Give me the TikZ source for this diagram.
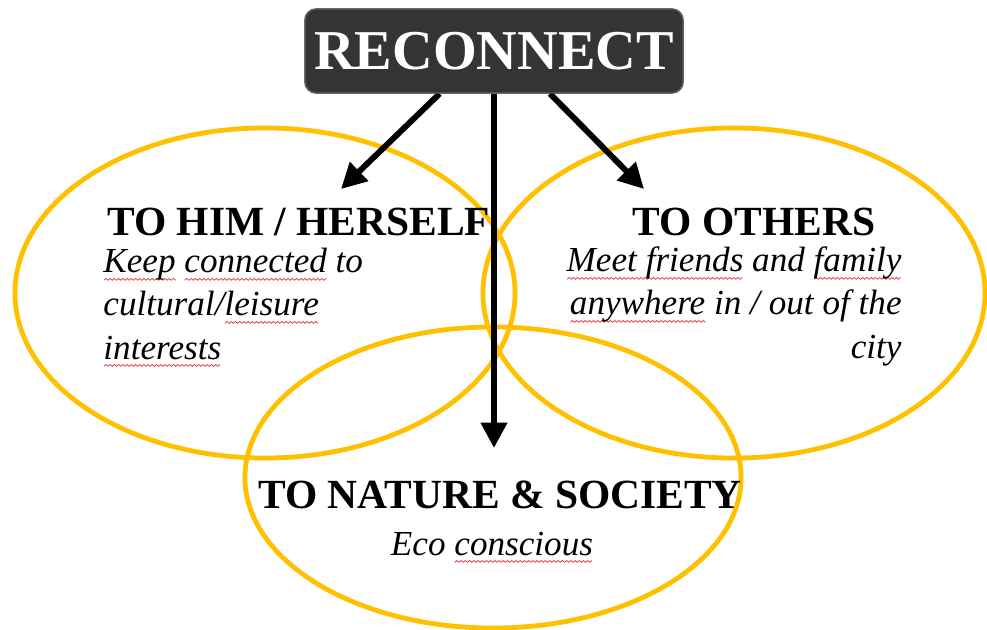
\documentclass[tikz,border=0pt]{standalone}
\usepackage{fontspec}
\setmainfont{Liberation Serif}
\usetikzlibrary{arrows.meta,shapes.geometric}
\definecolor{ringgold}{RGB}{255,192,0}
\definecolor{boxgray}{RGB}{52,52,52}
\definecolor{boxedge}{RGB}{95,95,95}
\definecolor{spellred}{RGB}{235,70,85}

% red zigzag underline for flagged words
\newsavebox\sqbox
\newlength\sqw
\newlength\sqx
\newcount\sqi
\newcount\sqn
\newcommand\squig{%
  \begin{pgfpicture}%
    \pgfsetlinewidth{0.6pt}%
    \sqn=\sqw \divide\sqn by 98304 % half periods of 1.5pt
    \sqi=0 \sqx=0pt
    \pgfpathmoveto{\pgfpoint{0pt}{0pt}}%
    \loop\ifnum\sqi<\sqn
      \advance\sqi by 1
      \advance\sqx by 1.5pt
      \ifodd\sqi \pgfpathlineto{\pgfpoint{\sqx}{1.3pt}}%
      \else \pgfpathlineto{\pgfpoint{\sqx}{0pt}}\fi
    \repeat
    \pgfusepath{stroke}%
  \end{pgfpicture}}
\newcommand\sq[1]{%
  \sbox\sqbox{#1}\setlength\sqw{\wd\sqbox}%
  \leavevmode\rlap{\smash{\raisebox{-5.5pt}{\textcolor{spellred}{\squig}}}}\usebox\sqbox}

\begin{document}
\begin{tikzpicture}[x=0.025cm,y=-0.025cm,
  ring/.style={draw=ringgold, line width=3.4pt, ellipse, inner sep=0pt},
  recbox/.style={fill=boxgray, draw=boxedge, line width=1pt, rounded corners=8pt,
    minimum width=9.45cm, minimum height=2.1cm, inner sep=0pt,
    text=white, font=\fontsize{40}{40}\selectfont\bfseries},
  head/.style={inner sep=0pt, font=\fontsize{29.5}{30}\selectfont\bfseries},
  note/.style={inner sep=0pt, font=\fontsize{25}{30.6}\selectfont\itshape},
  arr/.style={line width=4.2pt, -{Triangle[length=18pt,width=18pt]}}]
\fill[white] (0,0) rectangle (987,630);
\useasboundingbox (0,0) rectangle (987,630);

% the three circles of connection
\node[ring, minimum width=12.5cm, minimum height=8.25cm] (self) at (265,293) {};
\node[ring, minimum width=12.55cm, minimum height=8.25cm] (others) at (734,293) {};
\node[ring, minimum width=12.4cm, minimum height=7.525cm] (nature) at (493,477.5) {};

% headings
\node[head, anchor=base west] (hself) at (107,235) {TO HIM / HERSELF};
\node[head, anchor=base] (hothers) at (754,235) {TO OTHERS};
\node[head, anchor=base] (hnature) at (500,508) {TO NATURE \& SOCIETY};

% descriptions (base anchor sits on the last line)
\node[note, anchor=base west, align=left] (dself) at (103,359)
  {\sq{Keep} \sq{connected} to\\ cultural/\sq{leisure}\\ \sq{interests}};
\node[note, anchor=base east, align=right] (dothers) at (902,358)
  {\sq{Meet friends} and \sq{family}\\ \sq{anywhere} in / out of the\\ city};
\node[note, anchor=base] (dnature) at (492,555) {Eco \sq{conscious}};

% arrows from the title
\coordinate (tipL) at (341,189);
\coordinate (tipR) at (644,189);
\coordinate (tipM) at (494,448);
\node[recbox] (rec) at (494,51) {};
\draw[arr] ([xshift=-1.36cm]rec.south) -- (tipL);
\draw[arr] ([xshift=1.4cm]rec.south) -- (tipR);
\draw[arr] (rec.south) -- (tipM);
\node[recbox] (title) at (rec.center) {RECONNECT};
\end{tikzpicture}
\end{document}
